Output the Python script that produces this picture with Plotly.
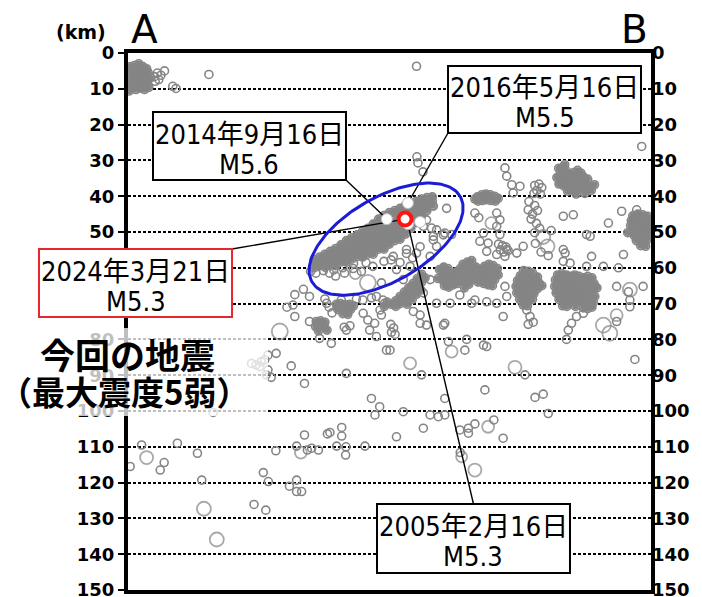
import numpy as np
import plotly.graph_objects as go

# ---------------- axes ----------------
X_MAX = 146.1          # distance along A-B (km), same scale as depth
D_MAX = 150.0          # depth (km)
depth_ticks = list(range(0, 151, 10))
depth_labels = [str(v) for v in depth_ticks]

# ---------------- hypocentres (distance km, depth km) ----------------
nw_core = [(0.6,3.8),(1.8,3.5),(3.0,4.0),(4.2,3.8),(5.2,4.4),(0.8,5.2),(2.0,5.6),(3.2,5.2),(4.4,5.8),(5.6,5.4),
           (1.2,6.8),(2.4,7.2),(3.6,6.8),(4.8,7.2),(0.5,8.2),(1.6,8.6),(2.8,8.4),(4.0,8.8),(5.2,8.4),(1.0,9.8),
           (2.2,10.2),(3.4,9.8),(4.6,10.2),(5.8,9.6),(0.4,10.6),(6.2,7.0),(3.0,3.0)]
nw_scatter = [(7.4,6.6),(8.2,5.6),(9.2,6.2),(10.2,5.0),(8.6,7.4),(7.6,7.9),(12.5,9.3),(13.4,9.9),(22.6,6.0),
              (80.6,3.7),(143.5,26.1)]

band_ellipse = [(52.0,57.8),(52.0,59.0),(52.0,60.0),(53.5,57.0),(53.5,58.2),(53.5,59.4),
                (55.0,56.2),(55.0,57.4),(55.0,58.6),(55.0,59.8),(56.5,55.4),(56.5,56.6),(56.5,57.8),(56.5,59.0),
                (58.0,54.6),(58.0,55.8),(58.0,57.0),(58.0,58.2),(58.0,59.4),(59.5,53.6),(59.5,54.8),(59.5,56.0),(59.5,57.2),(59.5,58.4),
                (61.0,52.4),(61.0,53.6),(61.0,54.8),(61.0,56.0),(61.0,57.2),(61.0,58.4),
                (62.5,51.6),(62.5,52.8),(62.5,54.0),(62.5,55.2),(62.5,56.4),(62.5,57.6),
                (64.0,50.8),(64.0,52.0),(64.0,53.2),(64.0,54.4),(64.0,55.6),(64.0,56.8),
                (65.5,49.8),(65.5,51.0),(65.5,52.2),(65.5,53.4),(65.5,54.6),(65.5,55.8),(65.5,57.0),
                (67.0,49.0),(67.0,50.2),(67.0,51.4),(67.0,52.6),(67.0,53.8),(67.0,55.0),(67.0,56.2),
                (68.5,47.8),(68.5,49.0),(68.5,50.2),(68.5,51.4),(68.5,52.6),(68.5,53.8),(68.5,55.0),(68.5,56.2),
                (70.0,46.4),(70.0,47.6),(70.0,48.8),(70.0,50.0),(70.0,51.2),(70.0,52.4),(70.0,53.6),(70.0,54.8),
                (71.5,45.4),(71.5,48.8),(71.5,50.0),(71.5,51.2),(71.5,52.4),(71.5,53.6),(71.5,54.8),
                (73.0,44.6),(73.0,48.6),(73.0,49.8),(73.0,51.0),(73.0,52.2),(73.0,53.4),
                (74.5,44.0),(74.5,45.2),(74.5,47.6),(74.5,48.8),(74.5,50.0),(74.5,51.2),(74.5,52.4),
                (76.0,43.4),(76.0,45.4),(76.0,47.6),(76.0,49.6),(76.0,50.8),(76.0,52.0),
                (77.5,42.6),(77.5,43.8),(77.5,49.4),(77.5,50.6),(79.0,42.0),(79.0,43.2),(79.0,44.4),(79.0,47.8),(79.0,49.0),
                (80.5,41.4),(80.5,42.6),(80.5,43.8),(80.5,45.0),(80.5,46.2),(80.5,47.4),
                (82.0,40.8),(82.0,42.0),(82.0,43.2),(82.0,44.4),(82.0,45.6),(83.5,40.4),(83.5,41.6),(83.5,42.8),(83.5,44.0),
                (85.0,40.2),(85.0,41.4),(85.0,42.6)]

band_fringe = [(51.0,61.0),(54.6,60.8),(56.3,61.5),(58.0,62.3),(60.5,61.5),(62.9,60.2),(65.2,61.0),(68.4,59.6),(70.8,64.2),
               (71.5,58.2),(74.1,56.8),(77.8,56.0),(81.6,54.1),(85.3,52.2),(88.1,50.8),(86.2,49.4),(89.0,43.4),(73.5,57.8),
               (76.0,58.5),(79.5,57.2),(66.5,58.6),(63.0,58.8),(60.0,60.0),(57.5,60.6),(52.5,61.5),(80.7,29.0),(81.0,30.7),
               (82.4,33.2),(85.3,42.8),(84.8,48.9),(85.3,51.2),(88.5,50.3),(90.4,50.7),(83.4,46.6),(82.5,48.4),(80.6,55.9),
               (84.4,56.8),(77.8,54.9),(86.2,54.0)]

blob_40km = [(97.6,40.2),(98.8,39.6),(100.0,39.4),(101.2,39.6),(102.4,40.0),(97.8,41.4),(99.0,41.2),(100.2,41.0),
             (101.4,41.2),(102.6,41.4),(103.4,40.6),(96.9,40.8)]

blob_ne = [(120.3,32.2),(121.5,32.0),(122.5,33.0),(120.8,33.6),(121.9,34.4),(123.2,34.0),(124.5,33.4),(125.6,32.8),
           (126.5,33.5),(127.2,34.6),(125.2,34.8),(123.8,35.6),(122.4,35.8),(121.0,35.2),(120.4,36.6),(121.8,37.2),
           (123.2,37.0),(124.6,36.8),(126.0,36.2),(127.4,36.0),(128.4,35.2),(128.6,37.2),(127.4,37.8),(126.0,38.0),
           (124.4,38.4),(122.8,38.6),(129.4,38.4),(127.6,39.2),(125.2,39.4),(130.3,36.8),(119.8,34.8),(122.0,31.2)]

mid_east = [(105.3,32.1),(105.8,34.4),(107.2,36.8),(109.5,37.2),(107.6,39.1),(113.6,37.0),(114.8,36.6),(115.6,37.6),
            (114.2,38.4),(113.4,39.2),(115.2,39.4),(112.0,41.5),(113.6,42.6),(111.8,43.8),(113.0,45.0),(114.4,44.0),
            (112.6,46.4),(114.1,47.6),(115.0,49.0),(113.6,50.2),(115.4,55.6),(117.4,56.6),(113.8,53.2),(118.2,49.6),
            (121.6,45.6),(124.4,45.2),(128.1,50.7),(129.1,51.2),(134.2,47.5),(137.9,44.2),(142.1,43.8),(121.6,54.9),
            (122.1,55.9),(129.5,56.8),(138.4,56.3),(121.6,58.2),(123.5,58.7),(128.1,59.6),(137.0,60.0),(132.8,59.6),
            (96.9,44.7),(103.0,48.4),(103.9,46.6),(103.9,50.7),(99.3,50.3),(98.3,52.6),(100.6,53.1),(100.2,55.4),
            (103.0,56.3),(105.8,54.9),(105.3,56.8),(108.6,55.9),(110.4,54.0),(103.0,44.7),(98.0,46.0),(103.5,53.4),
            (104.6,53.8),(105.6,54.2),(104.0,55.0),(105.0,55.6),(106.2,55.2),(105.3,65.2),
            (105.8,68.0),(75.0,60.5),(78.8,59.6),(76.9,63.3),(84.4,63.3),(82.5,67.0)]

blob_east_edge = [(141.0,45.5),(142.4,45.0),(143.8,45.2),(145.2,45.6),(140.6,46.8),(142.0,46.6),(143.4,46.4),(144.8,46.8),
                  (146.0,47.2),(140.4,48.2),(141.8,48.0),(143.2,47.8),(144.6,48.2),(146.0,48.6),(140.8,49.6),(142.2,49.4),
                  (143.6,49.2),(145.0,49.6),(141.4,51.0),(142.8,50.8),(144.2,50.6),(145.6,51.0),(142.0,52.4),(143.4,52.2),
                  (144.8,52.4),(143.2,53.8),(144.6,54.0),(139.6,50.2)]

blob_lower_a = [(82.0,61.8),(83.0,62.8),(80.8,63.0),(82.0,64.0),(79.6,64.4),(80.8,65.2),(78.4,65.6),(79.6,66.4),(77.2,66.8),
                (78.4,67.6),(76.0,68.0),(77.2,68.8),(74.8,69.2),(76.0,70.0),(73.6,70.2),(74.8,70.8),(80.6,67.4),(81.8,66.2),
                (79.4,68.8),(78.0,70.2),(72.4,69.6),(71.6,70.8)]

blob_lower_b = [(87.0,60.5),(88.2,59.8),(89.4,60.2),(88.0,61.8),(89.2,62.2),(90.4,61.6),(86.6,63.0),(87.8,63.4),(89.0,63.8),
                (90.2,63.2),(91.4,62.8),(88.4,65.0),(89.6,65.4),(90.8,64.8),(92.0,64.4),(91.6,61.2),(92.8,60.2),(93.6,59.0),
                (94.8,58.4),(96.0,58.0),(95.2,59.6),(94.0,60.8),(93.2,62.0),(92.4,63.4),(93.6,63.8),(94.8,62.6),(96.0,61.4),
                (97.2,59.8),(96.4,63.2),(95.2,64.6),(94.0,65.6),(97.6,62.0),(98.6,60.6),(99.6,59.6),(100.8,59.0),(102.0,59.4),
                (103.2,60.2),(99.8,61.2),(101.0,60.8),(102.2,61.4),(103.4,62.0),(98.8,62.6),(100.0,62.8),(101.2,63.0),
                (102.4,63.4),(99.4,64.4),(100.6,64.8),(101.8,65.0),(97.8,64.0)]

blob_lower_c = [(110.5,60.8),(111.8,61.0),(113.0,61.4),(109.6,62.2),(110.8,62.4),(112.0,62.6),(113.2,62.8),(114.4,62.6),
                (108.8,63.6),(110.0,63.8),(111.2,64.0),(112.4,64.2),(113.6,64.4),(114.8,64.2),(108.4,65.2),(109.6,65.4),
                (110.8,65.6),(112.0,65.8),(113.2,66.0),(114.4,65.8),(115.6,65.0),(108.6,67.0),(109.8,67.2),(111.0,67.4),
                (112.2,67.6),(113.4,67.2),(109.4,68.8),(110.6,69.0),(111.8,69.2),(113.0,68.8),(110.4,70.4),(111.6,70.6)]

blob_lower_d = [(120.0,62.0),(121.2,61.6),(122.4,62.0),(123.6,62.4),(124.8,62.0),(126.0,62.4),(127.2,62.8),(128.4,62.4),
                (129.6,62.8),(119.4,63.4),(120.6,63.6),(121.8,63.8),(123.0,64.0),(124.2,64.2),(125.4,64.0),(126.6,64.2),
                (127.8,64.4),(129.0,64.6),(130.2,64.4),(119.2,65.2),(120.4,65.4),(121.6,65.6),(122.8,65.8),(124.0,66.0),
                (125.2,65.8),(126.4,66.0),(127.6,66.2),(128.8,66.4),(130.0,66.2),(131.0,65.6),(119.6,67.0),(120.8,67.2),
                (122.0,67.4),(123.2,67.6),(124.4,67.8),(125.6,67.6),(126.8,67.8),(128.0,68.0),(129.2,68.2),(130.4,68.0),
                (120.4,68.8),(121.6,69.0),(122.8,69.2),(124.0,69.4),(125.2,69.2),(126.4,69.4),(127.6,69.6),(128.8,69.8),
                (130.0,69.6),(121.4,70.6),(122.6,70.8),(127.2,71.2),(128.4,71.4),(129.6,71.0),(125.0,70.8)]

lower_scatter = [(111.4,71.8),(112.3,73.6),(113.2,75.2),(111.8,75.8),(125.3,73.6),(123.9,75.5),(123.0,77.4),(122.5,80.0),
                 (127.2,72.7),(136.5,75.0),(140.2,69.0),(140.2,70.9),(139.8,66.7),(143.9,65.2),(136.5,65.2)]

west_blob_1 = [(52.6,75.0),(53.8,74.8),(55.0,75.2),(52.4,76.4),(53.6,76.2),(54.8,76.6),(55.6,77.4),(53.2,77.6)]
west_blob_2 = [(58.2,70.2),(59.4,70.0),(60.6,70.4),(61.8,70.2),(63.0,70.6),(58.6,71.6),(59.8,71.4),(61.0,71.8),
               (62.2,71.6),(60.0,72.8),(61.4,73.0)]
west_scatter = [(46.6,67.5),(50.7,68.0),(55.0,68.7),(59.6,69.0),(63.8,68.7),(68.0,68.4),(71.2,69.0),(46.1,70.4),(46.6,73.6),
                (50.7,75.0),(53.5,79.7),(56.8,81.1),(67.0,74.6),(68.9,75.5),(67.5,77.4),(70.8,73.2),(72.2,83.0),(69.4,79.2),
                (61.0,77.4),(60.4,76.6),(62.0,76.2),(57.0,72.6),(56.2,71.0),(55.5,69.9),(65.7,72.7),(70.4,71.8),
                (69.4,68.0),(65.6,69.0),(71.7,69.9),(49.0,66.0),(44.4,71.0)]

mid_depth = [(41.4,83.9),(39.1,84.4),(45.6,87.4),(49.3,92.3),(61.0,89.5),(68.0,96.5),(70.3,98.8),(79.7,72.2),(81.6,73.2),
             (81.6,75.5),(83.4,76.0),(88.1,76.0),(88.5,75.5),(86.2,69.9),(90.0,69.9),(92.7,67.6),(96.0,69.9),(96.9,69.0),
             (100.2,69.5),(103.0,69.9),(104.8,73.6),(89.5,80.6),(94.6,80.0),(94.1,83.0),(99.3,81.6),(100.2,82.0),(82.0,89.9),
             (73.2,83.0),(110.9,89.9),(141.6,85.6),(99.7,94.1),(88.5,96.5),(113.7,96.2),(116.0,95.3),(73.4,75.8),(74.2,76.8),
             (73.6,78.0),(74.6,78.6),(34.5,86.7),(35.8,87.1),(37.2,86.2),(38.2,85.7),(36.8,87.6),(39.1,88.5),(38.6,89.9),
             (40.0,90.6),(23.8,100.4)]

deep = [(69.0,101.1),(76.9,100.2),(84.4,101.1),(86.7,101.6),(88.5,101.1),(82.5,104.8),(75.0,107.2),(66.2,109.8),(92.7,105.3),
        (95.1,104.8),(96.9,103.6),(95.1,106.2),(102.2,102.5),(104.8,107.6),(92.8,111.6),(117.4,100.7),(0.6,115.5),(3.8,109.5),
        (9.0,116.5),(10.1,114.4),(13.8,109.0),(19.4,111.8),(20.6,119.3),(35.2,126.1),(37.8,117.2),(39.2,119.7),(38.5,127.7),
        (41.3,111.1),(45.1,121.0),(47.1,119.3),(47.1,122.5),(48.5,122.5),(47.1,109.8),(49.3,106.7),(50.1,110.9),(51.3,110.4),
        (53.2,110.9),(55.7,106.4),(56.4,106.0),(58.3,109.8),(59.7,104.6),(59.7,107.0),(60.9,110.0),(60.8,112.3)]

# larger events (distance km, depth km, marker diameter px)
large_events = [(67.0,64.2,16),(63.5,61.6,11),(42.4,77.8,16),(116.0,51.4,14),(117.2,54.0,14),(101.5,47.5,12),
                (132.8,76.0,15),(134.6,78.3,15),(136.5,73.2,12),(140.2,66.1,14),(90.4,83.4,12),(78.8,86.7,12),
                (108.1,87.8,13),(100.6,104.4,12),(93.2,112.8,11),(96.9,116.5,13),(5.2,113.0,13),(21.2,127.3,14),
                (24.8,135.9,14),(48.3,111.6,12)]

# labelled events
ev_2014 = (72.3, 46.4)
ev_2016 = (78.2, 41.9)
ev_2005 = (78.2, 47.8)
ev_2024 = (77.4, 46.4)
other_white = [(81.6, 47.2)]

# highlighted aftershock-area ellipse: centre (km), semi-axes (km), tilt (deg)
ell_centre = (72.1, 52.0)
ell_axes = (23.9, 11.7)
ell_tilt = 30.0

# label boxes (paper coords: x0, x1, y0, y1), text lines, anchor for leader
boxes = [
    dict(box=(0.0478, 0.4168, 0.7635, 0.8901), l1="2014年9月16日", l2="M5.6", col="black", anchor="br", ev=ev_2014),
    dict(box=(0.6119, 0.9809, 0.8510, 0.9758), l1="2016年5月16日", l2="M5.5", col="black", anchor="bl", ev=ev_2016),
    dict(box=(-0.1702, 0.1989, 0.5084, 0.6350), l1="2024年3月21日", l2="M5.3", col="#e8262e", anchor="tr", ev=ev_2024),
    dict(box=(0.4761, 0.8451, 0.0317, 0.1601), l1="2005年2月16日", l2="M5.3", col="black", anchor="tc", ev=ev_2005),
]

PLOT_H = 537

def paper_to_km(px, py):
    return px * X_MAX, (1 - py) * D_MAX

fig = go.Figure()
GREY = "#858585"

dense_groups = [nw_core, band_ellipse, blob_40km, blob_ne, blob_east_edge, blob_lower_a, blob_lower_b,
                blob_lower_c, blob_lower_d, west_blob_1, west_blob_2]
ring_groups = dense_groups + [nw_scatter, band_fringe, mid_east, lower_scatter, west_scatter, mid_depth, deep]

# solid cores of dense clusters (overlapping hypocentres)
fx = [p[0] for g in dense_groups for p in g]
fd = [p[1] for g in dense_groups for p in g]
fig.add_trace(go.Scatter(x=fx, y=fd, mode="markers",
                         marker=dict(symbol="circle", size=6.5, color=GREY, line=dict(width=0)),
                         hoverinfo="skip", showlegend=False))

gx = [p[0] for g in ring_groups for p in g]
gd = [p[1] for g in ring_groups for p in g]
fig.add_trace(go.Scatter(x=gx, y=gd, mode="markers",
                         marker=dict(symbol="circle", size=8, color="rgba(0,0,0,0)",
                                     line=dict(color=GREY, width=1.6)),
                         hoverinfo="skip", showlegend=False))
fig.add_trace(go.Scatter(x=[p[0] for p in large_events], y=[p[1] for p in large_events], mode="markers",
                         marker=dict(symbol="circle", size=[p[2] for p in large_events], color="rgba(0,0,0,0)",
                                     line=dict(color=GREY, width=1.8)),
                         hoverinfo="skip", showlegend=False))

# leader lines
for b in boxes:
    x0, x1, y0, y1 = b["box"]
    if b["anchor"] == "br":
        ax, ay = x1, y0
    elif b["anchor"] == "bl":
        ax, ay = x0, y0
    elif b["anchor"] == "tr":
        ax, ay = x1, y1
    else:
        ax, ay = (x0 + x1) / 2, y1
    kx, kd = paper_to_km(ax, ay)
    fig.add_trace(go.Scatter(x=[kx, b["ev"][0]], y=[kd, b["ev"][1]], mode="lines",
                             line=dict(color="black", width=1.4), hoverinfo="skip", showlegend=False))

# ellipse outline
t = np.linspace(0, 2 * np.pi, 181)
phi = np.deg2rad(ell_tilt)
ex = ell_centre[0] + ell_axes[0] * np.cos(phi) * np.cos(t) - ell_axes[1] * np.sin(phi) * np.sin(t)
ed = ell_centre[1] - (ell_axes[0] * np.sin(phi) * np.cos(t) + ell_axes[1] * np.cos(phi) * np.sin(t))
fig.add_trace(go.Scatter(x=ex, y=ed, mode="lines", line=dict(color="#1c1cd6", width=3),
                         hoverinfo="skip", showlegend=False))

# past large events (white)
wx = [ev_2014[0], ev_2016[0], ev_2005[0]] + [p[0] for p in other_white]
wd = [ev_2014[1], ev_2016[1], ev_2005[1]] + [p[1] for p in other_white]
fig.add_trace(go.Scatter(x=wx, y=wd, mode="markers",
                         marker=dict(size=11, color="white", line=dict(color="#bdbdbd", width=1)),
                         hoverinfo="skip", showlegend=False))
# this event (red ring)
fig.add_trace(go.Scatter(x=[ev_2024[0]], y=[ev_2024[1]], mode="markers",
                         marker=dict(size=13, color="white", line=dict(color="#ff1414", width=4)),
                         hoverinfo="skip", showlegend=False))
# dummy for right axis
fig.add_trace(go.Scatter(x=[None], y=[None], yaxis="y2", showlegend=False, hoverinfo="skip"))

shapes = []
annotations = []
BOX_FONT = dict(family="DejaVu Sans Condensed, Noto Sans CJK JP", size=27, color="black")
for b in boxes:
    x0, x1, y0, y1 = b["box"]
    shapes.append(dict(type="rect", xref="paper", yref="paper", x0=x0, x1=x1, y0=y0, y1=y1,
                       fillcolor="white", line=dict(color=b["col"], width=2), layer="above"))
    xc = (x0 + x1) / 2
    annotations.append(dict(xref="paper", yref="paper", x=xc, y=y1 - 22 / PLOT_H, text=b["l1"],
                            showarrow=False, xanchor="center", yanchor="middle", font=BOX_FONT))
    annotations.append(dict(xref="paper", yref="paper", x=xc, y=y1 - 52 / PLOT_H, text=b["l2"],
                            showarrow=False, xanchor="center", yanchor="middle", font=BOX_FONT))

# translucent backing for the big caption
shapes.append(dict(type="rect", xref="paper", yref="paper", x0=-0.2447, x1=0.2677, y0=0.324, y1=0.4879,
                   fillcolor="rgba(255,255,255,0.75)", line=dict(width=0), layer="above"))

annotations += [
    dict(xref="paper", yref="paper", x=-0.0019, y=0.4395, text="今回の地震", showarrow=False,
         xanchor="center", yanchor="middle",
         font=dict(family="Noto Sans CJK JP", size=35, color="black", weight="bold")),
    dict(xref="paper", yref="paper", x=-0.0076, y=0.3706, text="（最大震度5弱）", showarrow=False,
         xanchor="center", yanchor="middle",
         font=dict(family="Noto Sans CJK JP", size=33, color="black", weight="bold")),
    dict(xref="paper", yref="paper", x=-0.0899, y=1.0391, text="(km)", showarrow=False,
         xanchor="center", yanchor="middle", font=dict(family="DejaVu Sans", size=19, weight="bold", color="black")),
    dict(xref="paper", yref="paper", x=0.0325, y=1.044, text="A", showarrow=False,
         xanchor="center", yanchor="middle", font=dict(family="DejaVu Sans", size=39, color="black")),
    dict(xref="paper", yref="paper", x=0.9694, y=1.044, text="B", showarrow=False,
         xanchor="center", yanchor="middle", font=dict(family="DejaVu Sans", size=39, color="black")),
]

TICK_FONT = dict(family="DejaVu Sans", size=18, weight="bold", color="black")
# page body has an 8px default margin, so the figure is laid out 8px in from the window edge
fig.update_layout(
    width=694, height=589,
    margin=dict(l=120, r=51, t=45, b=7, autoexpand=False),
    paper_bgcolor="white", plot_bgcolor="white",
    xaxis=dict(range=[0, X_MAX], showline=True, mirror=True, linewidth=4, linecolor="black",
               showgrid=False, zeroline=False, showticklabels=False, ticks="", automargin=False),
    yaxis=dict(range=[D_MAX, 0], tickvals=depth_ticks, ticktext=depth_labels, showline=True, mirror=True,
               linewidth=4, linecolor="black", showgrid=True, gridcolor="black", gridwidth=2,
               griddash="3px,2px", zeroline=False, ticks="outside", ticklen=6, tickwidth=2,
               tickcolor="black", tickfont=TICK_FONT, ticklabeloverflow="allow", automargin=False),
    yaxis2=dict(range=[D_MAX, 0], overlaying="y", side="right", tickvals=depth_ticks, ticktext=depth_labels,
                showgrid=False, zeroline=False, showline=False, ticks="", tickfont=TICK_FONT,
                ticklabeloverflow="allow", automargin=False),
    shapes=shapes, annotations=annotations, showlegend=False,
)

fig.write_html("out.html")
